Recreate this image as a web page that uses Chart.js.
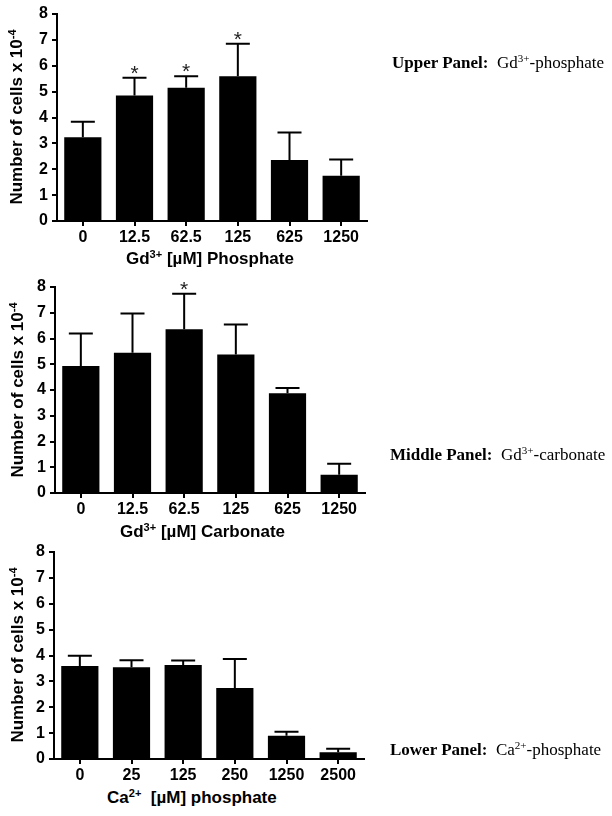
<!DOCTYPE html>
<html><head><meta charset="utf-8">
<script src="https://cdn.jsdelivr.net/npm/chart.js@4.4.1/dist/chart.umd.min.js"></script>
<style>
body{margin:0;background:#fff;width:612px;height:816px;position:relative;overflow:hidden;font-family:"Liberation Sans",Arial,sans-serif;color:#000;}
canvas{position:absolute;left:0;}
.ytitle{position:absolute;white-space:nowrap;font-weight:bold;font-size:17px;line-height:20px;transform:translate(-50%,-50%) rotate(-90deg);}
.xtitle{position:absolute;white-space:nowrap;font-weight:bold;font-size:17px;line-height:20px;}
.side{position:absolute;font-family:"Liberation Serif","Times New Roman",serif;font-size:17px;line-height:20px;white-space:nowrap;}
sup{font-size:0.65em;vertical-align:0.55em;line-height:0;}
</style></head>
<body>
<canvas id="c1" width="400" height="250" style="top:0px"></canvas>
<canvas id="c2" width="400" height="250" style="top:270px"></canvas>
<canvas id="c3" width="400" height="250" style="top:535px"></canvas>

<div class="ytitle" style="left:17px;top:117px">Number of cells x 10<sup>-4</sup></div>
<div class="ytitle" style="left:18px;top:390px">Number of cells x 10<sup>-4</sup></div>
<div class="ytitle" style="left:18px;top:655px">Number of cells x 10<sup>-4</sup></div>

<div class="xtitle" style="left:126px;top:249px">Gd<sup>3+</sup> [µM] Phosphate</div>
<div class="xtitle" style="left:120px;top:522px">Gd<sup>3+</sup> [µM] Carbonate</div>
<div class="xtitle" style="left:107px;top:788px">Ca<sup>2+</sup>&nbsp; [µM] phosphate</div>

<div class="side" style="left:392px;top:53px"><b>Upper Panel:</b>&nbsp; Gd<sup>3+</sup>-phosphate</div>
<div class="side" style="left:390px;top:445px"><b>Middle Panel:</b>&nbsp; Gd<sup>3+</sup>-carbonate</div>
<div class="side" style="left:390px;top:740px"><b>Lower Panel:</b>&nbsp; Ca<sup>2+</sup>-phosphate</div>

<script>
const upperCategories = ['0','12.5','62.5','125','625','1250'];
const upperMeans = [3.24, 4.85, 5.15, 5.59, 2.36, 1.75];
const upperSD    = [0.60, 0.69, 0.44, 1.26, 1.06, 0.63];
const upperSig   = [false, true, true, true, false, false];

const middleCategories = ['0','12.5','62.5','125','625','1250'];
const middleMeans = [4.93, 5.45, 6.36, 5.38, 3.87, 0.71];
const middleSD    = [1.26, 1.52, 1.38, 1.16, 0.21, 0.43];
const middleSig   = [false, false, true, false, false, false];

const lowerCategories = ['0','25','125','250','1250','2500'];
const lowerMeans = [3.59, 3.55, 3.63, 2.74, 0.90, 0.26];
const lowerSD    = [0.40, 0.27, 0.18, 1.12, 0.15, 0.14];
const lowerSig   = [false, false, false, false, false, false];

const yMin = 0, yMax = 8, yStep = 1;

Chart.defaults.font.family = '"Liberation Sans", Arial, sans-serif';
Chart.defaults.color = '#000';

const errBars = {
  id: 'errbars',
  afterDatasetsDraw(chart, args, opts) {
    const ctx = chart.ctx;
    const meta = chart.getDatasetMeta(0);
    const ys = chart.scales.y;
    const data = chart.data.datasets[0].data;
    ctx.save();
    ctx.strokeStyle = '#000';
    ctx.lineWidth = 2;
    meta.data.forEach((bar, i) => {
      const top = ys.getPixelForValue(data[i] + opts.sd[i]);
      ctx.beginPath();
      ctx.moveTo(bar.x, bar.y);
      ctx.lineTo(bar.x, top);
      ctx.moveTo(bar.x - 12, top);
      ctx.lineTo(bar.x + 12, top);
      ctx.stroke();
      if (opts.sig[i]) {
        ctx.fillStyle = '#222';
        ctx.font = '21px "Liberation Sans", Arial, sans-serif';
        ctx.textAlign = 'center';
        ctx.textBaseline = 'alphabetic';
        ctx.fillText('*', bar.x, top + 2);
      }
    });
    ctx.restore();
  }
};

function makePanel(id, cats, means, sd, sig, left, top, bottom) {
  const W = 400, H = 250;
  new Chart(document.getElementById(id), {
    type: 'bar',
    data: { labels: cats, datasets: [{ data: means, backgroundColor: '#000', borderWidth: 0, barPercentage: 0.72, categoryPercentage: 1.0 }] },
    options: {
      responsive: false, animation: false,
      layout: { padding: { top: top, right: W - (left + 310), left: 0, bottom: 0 } },
      plugins: { legend: { display: false }, tooltip: { enabled: false }, errbars: { sd: sd, sig: sig } },
      scales: {
        x: {
          offset: true,
          grid: { display: true, drawOnChartArea: false, drawTicks: true, tickLength: 5, offset: false, color: '#000', lineWidth: 2 },
          border: { display: true, color: '#000', width: 2 },
          ticks: { color: '#000', font: { size: 16, weight: 'bold' }, padding: 2, maxRotation: 0, autoSkip: false },
          afterFit: s => { s.height = H - bottom; }
        },
        y: {
          min: yMin, max: yMax,
          grid: { display: true, drawOnChartArea: false, drawTicks: true, tickLength: 5, color: '#000', lineWidth: 2 },
          border: { display: true, color: '#000', width: 2 },
          ticks: { stepSize: yStep, color: '#000', font: { size: 16, weight: 'bold' }, padding: 4 },
          afterFit: s => { s.width = left; }
        }
      }
    },
    plugins: [errBars]
  });
}

makePanel('c1', upperCategories, upperMeans, upperSD, upperSig, 57, 14, 221);
makePanel('c2', middleCategories, middleMeans, middleSD, middleSig, 55, 17, 223);
makePanel('c3', lowerCategories, lowerMeans, lowerSD, lowerSig, 54, 17, 224);
</script>
</body></html>
